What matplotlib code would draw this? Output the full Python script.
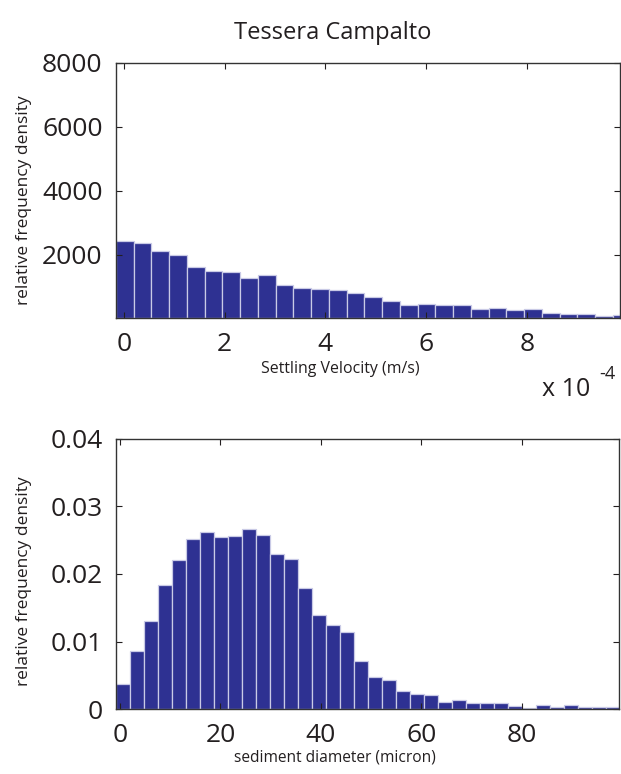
import matplotlib
matplotlib.use("Agg")
import matplotlib.pyplot as plt
import numpy as np

plt.rcParams['font.family'] = ['Open Sans', 'DejaVu Sans']

# ---- data ----
# Settling velocity histogram (units of 1e-4 m/s)
vel_start = -0.16
vel_width = 0.3525
vel_density = [2419, 2366, 2115, 1990, 1623, 1497, 1445, 1257, 1372, 1037,
               953, 911, 890, 785, 670, 555, 408, 450, 419, 408,
               293, 325, 251, 283, 157, 126, 126, 63, 105]

# Sediment diameter histogram (micron)
diam_start = -0.75
diam_width = 2.785
diam_density = [0.0037, 0.0086, 0.0130, 0.0183, 0.0220, 0.0251, 0.0262, 0.0254,
                0.0256, 0.0266, 0.0257, 0.0229, 0.0222, 0.0179, 0.0140, 0.0124,
                0.0114, 0.0072, 0.0048, 0.0043, 0.0027, 0.0023, 0.0021, 0.0011,
                0.0014, 0.0009, 0.0010, 0.0010, 0.0005, 0.0002, 0.0007, 0.0003,
                0.0007, 0.0003, 0.0003, 0.0003]

title = "Tessera Campalto"
ylab = "relative frequency density"
xlab_top = "Settling Velocity (m/s)"
xlab_bot = "sediment diameter (micron)"
top_xticks = [0, 2, 4, 6, 8]
top_yticks = [2000, 4000, 6000, 8000]
bot_xticks = [0, 20, 40, 60, 80]
bot_yticks = [0, 0.01, 0.02, 0.03, 0.04]
bot_yticklabels = ['0', '0.01', '0.02', '0.03', '0.04']

face = '#2E3192'
edge = '#C9CAE6'
txtc = '#231F20'

W, H = 621, 774
fig = plt.figure(figsize=(W / 100, H / 100), dpi=100)

def px(x0, y0, x1, y1):
    return [x0 / W, 1 - y1 / H, (x1 - x0) / W, (y1 - y0) / H]

ax1 = fig.add_axes(px(115.7, 63, 620, 318.5))
ax2 = fig.add_axes(px(115.7, 438.5, 618.5, 709.4))

def style(ax):
    ax.tick_params(direction='in', length=4.5, width=0.8, top=True, right=True,
                   labelsize=19, colors=txtc)
    ax.tick_params(axis='x', pad=10)
    ax.tick_params(axis='y', pad=9.5)
    for s in ax.spines.values():
        s.set_linewidth(1.0)
        s.set_color('#333333')

# top histogram
n1 = len(vel_density)
x1 = vel_start + vel_width * np.arange(n1)
ax1.bar(x1, vel_density, width=vel_width, align='edge', color=face,
        edgecolor=edge, linewidth=0.9)
ax1.set_xlim(-0.165, 9.85)
ax1.set_ylim(0, 8000)
ax1.set_xticks(top_xticks)
ax1.set_yticks(top_yticks)
style(ax1)

# bottom histogram
n2 = len(diam_density)
x2 = diam_start + diam_width * np.arange(n2)
ax2.bar(x2, diam_density, width=diam_width, align='edge', color=face,
        edgecolor=edge, linewidth=0.9)
ax2.set_xlim(-0.85, 99.3)
ax2.set_ylim(0, 0.04)
ax2.set_xticks(bot_xticks)
ax2.set_yticks(bot_yticks)
ax2.set_yticklabels(bot_yticklabels)
style(ax2)

# texts
fig.text(333 / W, 1 - 33 / H, title, ha='center', va='center', fontsize=17, color=txtc)
fig.text(24 / W, 1 - 200 / H, ylab, rotation=90, ha='center', va='center', fontsize=12.5, color=txtc)
fig.text(24 / W, 1 - 581 / H, ylab, rotation=90, ha='center', va='center', fontsize=12.5, color=txtc)
fig.text(340 / W, 1 - 369 / H, xlab_top, ha='center', va='center', fontsize=11.4, color=txtc)
fig.text(335 / W, 1 - 757 / H, xlab_bot, ha='center', va='center', fontsize=11.2, color=txtc)
fig.text(566 / W, 1 - 390 / H, "x 10", ha='center', va='center', fontsize=18, color=txtc)
fig.text(607 / W, 1 - 374 / H, "-4", ha='center', va='center', fontsize=13, color=txtc)

fig.savefig('out.png', dpi=100)
